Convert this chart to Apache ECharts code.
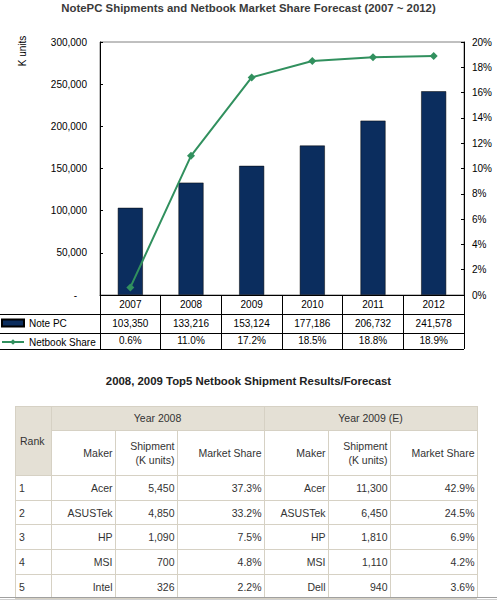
<!DOCTYPE html>
<html><head><meta charset="utf-8">
<script src="https://cdn.jsdelivr.net/npm/echarts@6/dist/echarts.min.js"></script>
<style>html,body{margin:0;padding:0;background:#fff}#c{width:497px;height:601px}</style>
</head><body><div id="c"></div>
<script>
// ---- chart data ----
const chartTitle = 'NotePC Shipments and Netbook Market Share Forecast (2007 ~ 2012)';
const years = ['2007', '2008', '2009', '2010', '2011', '2012'];
const notePC = [103350, 133216, 153124, 177186, 206732, 241578];
const netbookShare = [0.6, 11.0, 17.2, 18.5, 18.8, 18.9];

// ---- table data ----
const tableTitle = '2008, 2009 Top5 Netbook Shipment Results/Forecast';
const ranks = ['1', '2', '3', '4', '5'];
const makers2008 = ['Acer', 'ASUSTek', 'HP', 'MSI', 'Intel'];
const shipment2008 = [5450, 4850, 1090, 700, 326];
const share2008 = [37.3, 33.2, 7.5, 4.8, 2.2];
const makers2009 = ['Acer', 'ASUSTek', 'HP', 'MSI', 'Dell'];
const shipment2009 = [11300, 6450, 1810, 1110, 940];
const share2009 = [42.9, 24.5, 6.9, 4.2, 3.6];

// ---- layout ----
const FONT = '"Liberation Sans", Arial, sans-serif';
const W = 497, H = 601;
const GL = 100, GR = 464, GT = 42, GB = 295;
const ROWS = [314, 333, 349];
const TX = [15, 51, 115, 177, 264, 328, 390, 477];
const TY = [406, 430, 475, 500, 524, 549, 574, 598];
const BORDER = '#d6d1c4', BEIGE = '#e4e0d5', TCOL = '#333';
const BAR = '#0b2d5e', GREEN = '#31905e';

const fmt = v => v.toLocaleString('en-US');
const pct = v => v.toFixed(1) + '%';

function txt(s, x, y, align, size, extra) {
  return Object.assign({
    type: 'text', x: x, y: y, silent: true,
    style: { text: s, fill: TCOL, fontSize: size || 10.5, fontFamily: FONT,
      align: align || 'left', textAlign: align || 'left',
      verticalAlign: 'middle', textVerticalAlign: 'middle' }
  }, extra || {});
}
function hline(x1, x2, y, color) {
  return { type: 'line', silent: true, shape: { x1: x1, y1: y + 0.5, x2: x2, y2: y + 0.5 },
    style: { stroke: color, lineWidth: 1 } };
}
function vline(x, y1, y2, color) {
  return { type: 'line', silent: true, shape: { x1: x + 0.5, y1: y1, x2: x + 0.5, y2: y2 },
    style: { stroke: color, lineWidth: 1 } };
}

const g = [];
// y axis name
g.push(txt('K units', 22, 51, 'center', 10, { rotation: Math.PI / 2 }));
g[0].style.fill = '#000';
// chart data-table rows
ROWS.forEach(y => g.push(hline(0, GR, y, '#000')));

// lower table backgrounds
g.push({ type: 'rect', silent: true, shape: { x: TX[0], y: TY[0], width: TX[1] - TX[0], height: TY[2] - TY[0] }, style: { fill: BEIGE } });
g.push({ type: 'rect', silent: true, shape: { x: TX[1], y: TY[0], width: TX[7] - TX[1], height: TY[1] - TY[0] }, style: { fill: BEIGE } });
// borders
g.push(hline(TX[0], TX[7], TY[0], BORDER));
g.push(hline(TX[1], TX[7], TY[1], BORDER));
for (let i = 2; i < TY.length; i++) g.push(hline(TX[0], TX[7], TY[i], BORDER));
[0, 1, 4, 7].forEach(i => g.push(vline(TX[i], TY[0], TY[7], BORDER)));
[2, 3, 5, 6].forEach(i => g.push(vline(TX[i], TY[1], TY[7], BORDER)));
// header texts
g.push(txt('Rank', 20, (TY[0] + TY[2]) / 2, 'left'));
g.push(txt('Year 2008', (TX[1] + TX[4]) / 2, (TY[0] + TY[1]) / 2, 'center'));
g.push(txt('Year 2009 (E)', (TX[4] + TX[7]) / 2, (TY[0] + TY[1]) / 2, 'center'));
const hy = (TY[1] + TY[2]) / 2;
[[2, 'Maker'], [3, 'Shipment\n(K units)'], [4, 'Market Share'], [5, 'Maker'], [6, 'Shipment\n(K units)'], [7, 'Market Share']]
  .forEach(([i, s]) => { const t = txt(s, TX[i] - 2.5, hy + 0.5, 'right'); t.style.lineHeight = 14; g.push(t); });
// data rows
ranks.forEach((r, k) => {
  const y = (TY[2 + k] + TY[3 + k]) / 2 + 0.5;
  g.push(txt(r, 19, y, 'left'));
  g.push(txt(makers2008[k], TX[2] - 2.5, y, 'right'));
  g.push(txt(fmt(shipment2008[k]), TX[3] - 2.5, y, 'right'));
  g.push(txt(pct(share2008[k]), TX[4] - 2.5, y, 'right'));
  g.push(txt(makers2009[k], TX[5] - 2.5, y, 'right'));
  g.push(txt(fmt(shipment2009[k]), TX[6] - 2.5, y, 'right'));
  g.push(txt(pct(share2009[k]), TX[7] - 2.5, y, 'right'));
});
// page rule at bottom
g.push(hline(0, W, 597, '#a0a0a0'));
g.push(hline(0, W, 599, '#d0d0d0'));

const labelStyle = { fontSize: 10, color: '#000', fontFamily: FONT };

const chart = echarts.init(document.getElementById('c'), null, { renderer: 'svg' });
chart.setOption({
  animation: false,
  backgroundColor: '#fff',
  textStyle: { fontFamily: FONT },
  title: [
    { text: chartTitle, left: 'center', top: 2, padding: 0,
      textStyle: { fontSize: 11.4, fontWeight: 'bold', color: '#3a3a3a', fontFamily: FONT } },
    { text: tableTitle, left: 'center', top: 375, padding: 0,
      textStyle: { fontSize: 11.4, fontWeight: 'bold', color: '#222', fontFamily: FONT } }
  ],
  legend: {
    orient: 'vertical', left: 1, top: 318, padding: 0,
    itemWidth: 22, itemHeight: 7, itemGap: 9,
    textStyle: labelStyle,
    data: [{ name: 'Note PC', icon: 'rect' }, { name: 'Netbook Share' }]
  },
  grid: { left: GL, right: W - GR, top: GT, bottom: H - GB, show: true,
    borderColor: '#808080', borderWidth: 1, backgroundColor: 'transparent' },
  xAxis: [
    { type: 'category', data: years, position: 'bottom',
      axisLine: { lineStyle: { color: '#000' } },
      axisTick: { show: true, length: ROWS[2] - GB, lineStyle: { color: '#000' } },
      axisLabel: Object.assign({ margin: 4, interval: 0 }, labelStyle) },
    { type: 'category', data: notePC.map(fmt), position: 'bottom', offset: 19,
      axisLine: { show: false }, axisTick: { show: false },
      axisLabel: Object.assign({ margin: 4, interval: 0 }, labelStyle) },
    { type: 'category', data: netbookShare.map(pct), position: 'bottom', offset: 37,
      axisLine: { show: false }, axisTick: { show: false },
      axisLabel: Object.assign({ margin: 3, interval: 0 }, labelStyle) }
  ],
  yAxis: [
    { type: 'value', min: 0, max: 300000, interval: 50000, position: 'left',
      axisLine: { show: true, lineStyle: { color: '#000' } },
      axisTick: { show: true, inside: true, length: 3, lineStyle: { color: '#000' } },
      splitLine: { show: false },
      axisLabel: Object.assign({ margin: 13,
        formatter: v => v === 0 ? '{d|-}' : fmt(v),
        rich: { d: { fontSize: 10, color: '#000', padding: [0, 10, 0, 0], fontFamily: FONT } } }, labelStyle) },
    { type: 'value', min: 0, max: 20, interval: 2, position: 'right',
      axisLine: { show: true, lineStyle: { color: '#000' } },
      axisTick: { show: true, inside: true, length: 3, lineStyle: { color: '#000' } },
      splitLine: { show: false },
      axisLabel: Object.assign({ margin: 8, formatter: '{value}%' }, labelStyle) }
  ],
  series: [
    { name: 'Note PC', type: 'bar', data: notePC, xAxisIndex: 0, yAxisIndex: 0,
      barWidth: 25, itemStyle: { color: BAR, borderColor: '#000', borderWidth: 0.5 } },
    { name: 'Netbook Share', type: 'line', data: netbookShare, xAxisIndex: 0, yAxisIndex: 1,
      symbol: 'diamond', symbolSize: 8, showSymbol: true,
      lineStyle: { color: GREEN, width: 2 }, itemStyle: { color: GREEN } }
  ],
  graphic: g
});
</script></body></html>
